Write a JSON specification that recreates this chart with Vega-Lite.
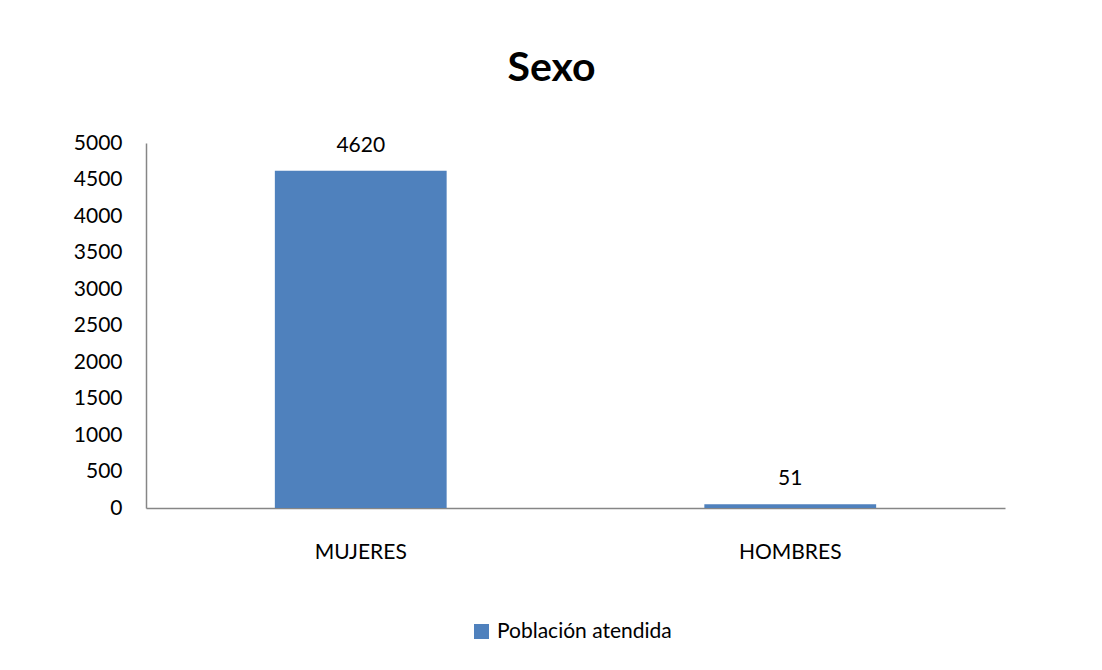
{
  "$schema": "https://vega.github.io/schema/vega-lite/v6.json",
  "autosize": {"type": "none"},
  "width": 859,
  "height": 365,
  "padding": {"left": 146, "top": 143, "right": 97, "bottom": 162},
  "background": "white",
  "title": {
    "text": "Sexo",
    "font": "Lato",
    "fontSize": 41,
    "fontWeight": "bold",
    "color": "#000000",
    "anchor": "middle",
    "dx": -24,
    "offset": 42
  },
  "data": {
    "values": [
      {"sexo": "MUJERES", "valor": 4620, "serie": "Población atendida"},
      {"sexo": "HOMBRES", "valor": 51, "serie": "Población atendida"}
    ]
  },
  "encoding": {
    "x": {
      "field": "sexo",
      "type": "nominal",
      "sort": null,
      "scale": {"paddingInner": 0.6, "paddingOuter": 0.3},
      "axis": {
        "title": null,
        "labelAngle": 0,
        "ticks": false,
        "labelPadding": 33,
        "labelFont": "Lato",
        "labelFontSize": 21,
        "labelColor": "#000000",
        "domainColor": "#868686",
        "domainWidth": 1.5
      }
    },
    "y": {
      "field": "valor",
      "type": "quantitative",
      "scale": {"domain": [0, 5000], "nice": false},
      "axis": {
        "title": null,
        "values": [0, 500, 1000, 1500, 2000, 2500, 3000, 3500, 4000, 4500, 5000],
        "format": "d",
        "grid": false,
        "ticks": false,
        "labelPadding": 24,
        "labelFont": "Lato",
        "labelFontSize": 21,
        "labelColor": "#000000",
        "domainColor": "#868686",
        "domainWidth": 1.5
      }
    }
  },
  "layer": [
    {
      "mark": {"type": "bar", "color": "#4F81BD"},
      "encoding": {
        "color": {
          "field": "serie",
          "type": "nominal",
          "scale": {"range": ["#4F81BD"]},
          "legend": {
            "title": null,
            "orient": "none",
            "legendX": 325,
            "legendY": 478,
            "symbolType": "square",
            "symbolSize": 225,
            "symbolStrokeWidth": 0,
            "labelFont": "Lato",
            "labelFontSize": 21,
            "labelColor": "#000000",
            "labelOffset": 5,
            "labelLimit": 0
          }
        }
      }
    },
    {
      "mark": {
        "type": "text",
        "baseline": "bottom",
        "dy": -15,
        "font": "Lato",
        "fontSize": 21,
        "color": "#000000"
      },
      "encoding": {
        "text": {"field": "valor", "type": "quantitative", "format": "d"}
      }
    }
  ],
  "config": {"view": {"stroke": null}}
}
